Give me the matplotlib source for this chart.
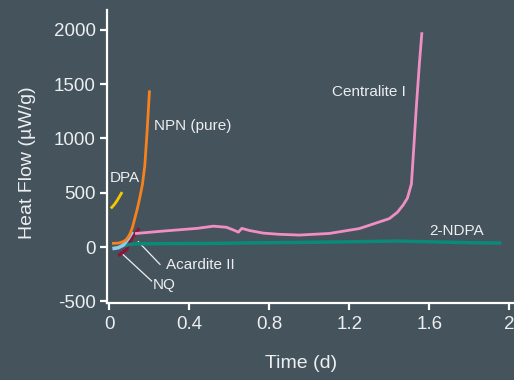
import matplotlib
matplotlib.use("Agg")
import matplotlib.pyplot as plt

plt.rcParams['font.family'] = ['Liberation Sans', 'DejaVu Sans']
plt.rcParams['axes.unicode_minus'] = False

# Heat flow curves (time in days, heat flow in µW/g)
npn_t = [0.02, 0.045, 0.07, 0.085, 0.095, 0.105, 0.115, 0.128, 0.14, 0.152, 0.165, 0.177, 0.188, 0.2]
npn_q = [34, 36, 50, 70, 95, 130, 180, 270, 355, 455, 575, 750, 1050, 1430]

dpa_t = [0.012, 0.025, 0.04, 0.06]
dpa_q = [365, 392, 432, 495]

nq_t = [0.045, 0.065, 0.087, 0.098, 0.118, 0.15]
nq_q = [-80, -52, -21, 28, 101, 172]

acardite_t = [0.015, 0.045, 0.07, 0.095, 0.115]
acardite_q = [-15, -6, 18, 80, 141]

ndpa_t = [0.078, 0.09, 0.13, 0.5, 0.7, 1.0, 1.2, 1.44, 1.6, 1.8, 1.96]
ndpa_q = [8, 20, 30, 33, 38, 43, 48, 55, 48, 40, 36]

centralite_t = [0.135, 0.27, 0.44, 0.52, 0.585, 0.62, 0.645, 0.662, 0.70, 0.77,
                0.85, 0.95, 1.10, 1.25, 1.34, 1.40, 1.44, 1.47, 1.49, 1.51,
                1.52, 1.535, 1.55, 1.562]
centralite_q = [125, 147, 172, 192, 182, 157, 137, 172, 152, 128,
                117, 110, 125, 170, 225, 262, 320, 390, 450, 580,
                860, 1300, 1690, 1965]

x_ticks = [0, 0.4, 0.8, 1.2, 1.6, 2.0]
x_tick_labels = ["0", "0.4", "0.8", "1.2", "1.6", "2"]
y_ticks = [-500, 0, 500, 1000, 1500, 2000]

bg = "#45535c"
fg = "#eceef0"

fig = plt.figure(figsize=(5.14, 3.80), dpi=100, facecolor=bg)
ax = fig.add_axes([107 / 514, 1 - 302.5 / 380, 1 - 107 / 514, (302.5 - 10) / 380])
ax.set_facecolor(bg)

lw = 2.0
ax.plot(ndpa_t, ndpa_q, color="#0a8a78", lw=2.5, solid_capstyle="butt", zorder=3)
ax.plot(centralite_t, centralite_q, color="#f08fc3", lw=lw, zorder=3)
ax.plot(nq_t, nq_q, color="#8c1539", lw=2.4, solid_capstyle="butt", zorder=2)
ax.plot(acardite_t, acardite_q, color="#8ecbeb", lw=2.6, solid_capstyle="butt", zorder=4)
ax.plot(npn_t, npn_q, color="#f5821f", lw=lw, zorder=5)
ax.plot(dpa_t, dpa_q, color="#f7c800", lw=lw, zorder=5)

# Leader lines
ax.plot([0.1445, 0.253], [49, -160], color=fg, lw=0.9, zorder=1)
ax.plot([0.0615, 0.211], [-58, -313], color=fg, lw=0.9, zorder=1)

ann = dict(color=fg, fontsize=11, va="center", ha="left")
ax.text(0.223, 1114, "NPN (pure)", **ann)
ax.text(0.0, 633, "DPA", **ann)
ax.text(1.1145, 1430, "Centralite I", **ann)
ax.text(1.60, 150, "2-NDPA", **ann)
ax.text(0.283, -166, "Acardite II", **ann)
ax.text(0.2165, -350, "NQ", **ann)

ax.set_xlim(-0.012, 2.023)
ax.set_ylim(-511, 2183)
ax.set_xticks(x_ticks)
ax.set_xticklabels(x_tick_labels)
ax.set_yticks(y_ticks)

for side in ("top", "right"):
    ax.spines[side].set_visible(False)
for side in ("left", "bottom"):
    ax.spines[side].set_color("white")
    ax.spines[side].set_linewidth(1.6)
ax.tick_params(axis="both", colors="white", width=1.6, length=5,
               labelsize=13.5, labelcolor=fg, direction="out")
ax.tick_params(axis="x", pad=5)
ax.tick_params(axis="y", pad=3)

fig.text(28 / 514, 1 - 163 / 380, "Heat Flow (µW/g)", rotation=90,
         ha="center", va="center", color=fg, fontsize=14)
fig.text(301.5 / 514, 1 - 363 / 380, "Time (d)", ha="center", va="center",
         color=fg, fontsize=14)

fig.savefig("out.png", dpi=100, facecolor=bg)
